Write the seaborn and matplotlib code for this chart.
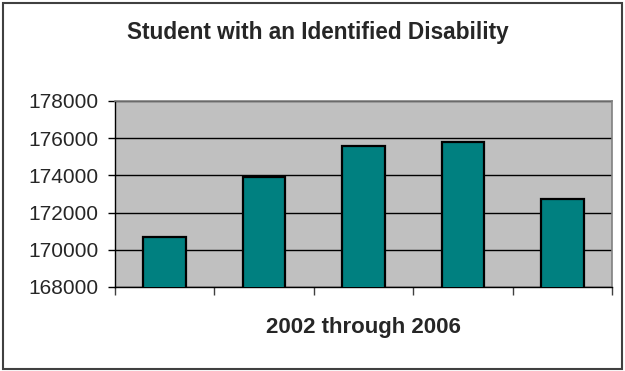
import matplotlib
matplotlib.use("Agg")
import matplotlib.pyplot as plt
import seaborn as sns
import pandas as pd
from matplotlib.patches import Rectangle

years = ["2002", "2003", "2004", "2005", "2006"]
students = [170680, 173910, 175560, 175780, 172740]
title = "Student with an Identified Disability"
xlabel = "2002 through 2006"
yticks = [168000, 170000, 172000, 174000, 176000, 178000]

sns.set_style("white")
plt.rcParams["font.family"] = ["Liberation Sans", "DejaVu Sans"]

df = pd.DataFrame({"year": years, "students": students})

fig = plt.figure(figsize=(6.25, 3.71), dpi=100)
ax = fig.add_axes([115/625, 1-287/371, (612-115)/625, (287-101)/371])
ax.set_facecolor("#C0C0C0")

sns.barplot(data=df, x="year", y="students", color="#008080", width=0.43,
            edgecolor="black", linewidth=1.6, saturation=1, ax=ax, zorder=3)

ax.set_ylim(yticks[0], yticks[-1])
ax.set_yticks(yticks)
ax.set_yticklabels([str(v) for v in yticks], fontsize=15)
ax.set_xlim(-0.5, len(years) - 0.5)
ax.set_xticks([i - 0.5 for i in range(len(years) + 1)])
ax.set_xticklabels([])
ax.yaxis.grid(True, color="black", linewidth=1.0, zorder=1)
ax.set_axisbelow(True)
ax.tick_params(axis="y", left=True, length=5, width=1, color="black", pad=7)
ax.tick_params(axis="x", bottom=True, length=6, width=1, color="#404040")
ax.set_ylabel("")
ax.set_xlabel("")

for s in ["top", "right"]:
    ax.spines[s].set_color("#808080")
    ax.spines[s].set_linewidth(1.2)
for s in ["left", "bottom"]:
    ax.spines[s].set_color("black")
    ax.spines[s].set_linewidth(1.0)

fig.text(318/625, 1-32/371, title, fontsize=16.3, fontweight="bold",
         ha="center", va="center")
fig.text(363.5/625, 1-327/371, xlabel, fontsize=16, fontweight="bold",
         ha="center", va="center")

fig.patches.append(Rectangle((3/625, 2/371), 619/625, 366/371,
                             transform=fig.transFigure, fill=False,
                             edgecolor="#404040", linewidth=1.5))

fig.savefig("out.png", dpi=100, facecolor="white")
